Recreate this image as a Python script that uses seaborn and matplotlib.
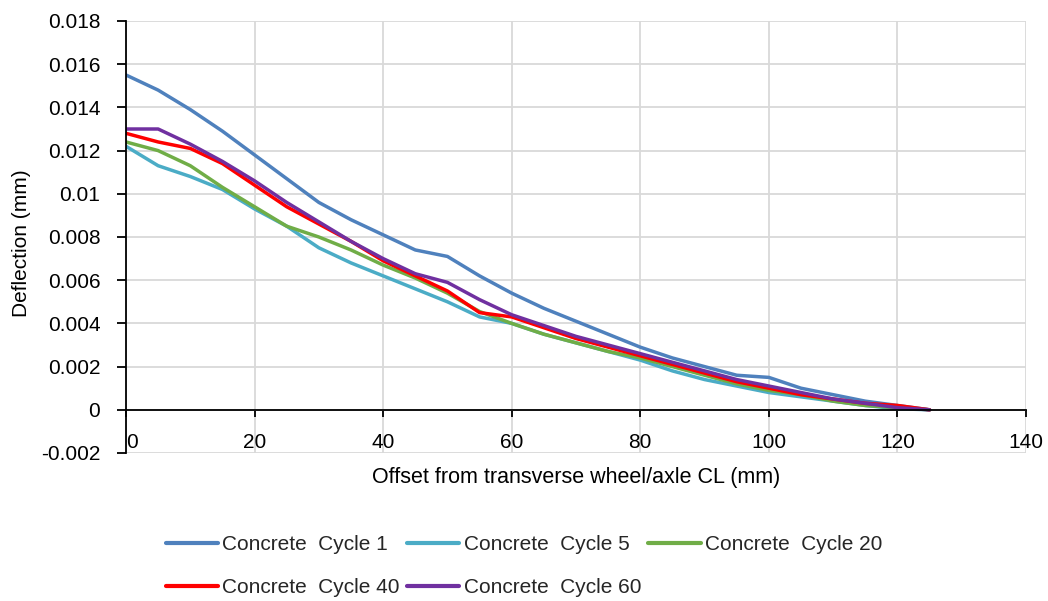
import matplotlib
matplotlib.use("Agg")
import matplotlib.pyplot as plt
import seaborn as sns
import pandas as pd

# Offset positions (mm) and measured deflections (mm) per loading cycle
offset_mm = [0, 5, 10, 15, 20, 25, 30, 35, 40, 45, 50, 55, 60,
             65, 70, 75, 80, 85, 90, 95, 100, 105, 110, 115, 120, 125]

cycle_1 = [0.0155, 0.0148, 0.0139, 0.0129, 0.0118, 0.0107, 0.0096, 0.0088, 0.0081,
           0.0074, 0.0071, 0.0062, 0.0054, 0.0047, 0.0041, 0.0035, 0.0029, 0.0024,
           0.0020, 0.0016, 0.0015, 0.0010, 0.0007, 0.0004, 0.0002, 0.0]
cycle_5 = [0.0122, 0.0113, 0.0108, 0.0102, 0.0093, 0.0085, 0.0075, 0.0068, 0.0062,
           0.0056, 0.0050, 0.0043, 0.0040, 0.0035, 0.0031, 0.0027, 0.0023, 0.0018,
           0.0014, 0.0011, 0.0008, 0.0006, 0.0004, 0.0002, 0.00005, 0.0]
cycle_20 = [0.0124, 0.0120, 0.0113, 0.0103, 0.0094, 0.0085, 0.0080, 0.0074, 0.0067,
            0.0061, 0.0054, 0.00455, 0.0040, 0.0035, 0.0031, 0.0027, 0.0024, 0.0020,
            0.0016, 0.0012, 0.0009, 0.0007, 0.0004, 0.0002, 0.0001, 0.0]
cycle_40 = [0.0128, 0.0124, 0.0121, 0.0114, 0.0104, 0.0094, 0.0086, 0.0078, 0.0069,
            0.0062, 0.0055, 0.0045, 0.0043, 0.0038, 0.0033, 0.0029, 0.0025, 0.0021,
            0.0017, 0.0013, 0.0010, 0.0007, 0.0005, 0.0003, 0.0002, 0.0]
cycle_60 = [0.0130, 0.0130, 0.0123, 0.0115, 0.0106, 0.0096, 0.0087, 0.0078, 0.0070,
            0.0063, 0.0059, 0.0051, 0.0044, 0.0039, 0.0034, 0.0030, 0.0026, 0.0022,
            0.0018, 0.0014, 0.0011, 0.0008, 0.0005, 0.0003, 0.0001, 0.0]

series_names = ["Concrete  Cycle 1", "Concrete  Cycle 5", "Concrete  Cycle 20",
                "Concrete  Cycle 40", "Concrete  Cycle 60"]
series_values = [cycle_1, cycle_5, cycle_20, cycle_40, cycle_60]
series_colors = ["#4F81BD", "#4BACC6", "#70AD47", "#FF0000", "#7030A0"]

x_ticks = [0, 20, 40, 60, 80, 100, 120, 140]
y_ticks = [-0.002, 0, 0.002, 0.004, 0.006, 0.008, 0.01, 0.012, 0.014, 0.016, 0.018]
y_tick_labels = ["-0.002", "0", "0.002", "0.004", "0.006", "0.008", "0.01",
                 "0.012", "0.014", "0.016", "0.018"]

x_title = "Offset from transverse wheel/axle CL (mm)"
y_title = "Deflection (mm)"

sns.set_theme(style="white")
plt.rcParams["font.family"] = ["Liberation Sans", "DejaVu Sans"]

df = pd.concat(
    [pd.DataFrame({"offset": offset_mm, "deflection": vals, "series": name})
     for name, vals in zip(series_names, series_values)],
    ignore_index=True,
)

fig = plt.figure(figsize=(10.48, 6.01), dpi=100)
ax = fig.add_axes([126 / 1048, 1 - 453 / 601, 900 / 1048, 432 / 601])

sns.lineplot(data=df, x="offset", y="deflection", hue="series",
             hue_order=series_names, palette=dict(zip(series_names, series_colors)),
             sort=False, linewidth=2.5, ax=ax)
for line in ax.get_lines():
    line.set_solid_joinstyle("round")

ax.set_xlim(0, 140)
ax.set_ylim(-0.002, 0.018)
ax.set_xticks(x_ticks)
ax.set_xticklabels([str(t) for t in x_ticks])
ax.set_yticks(y_ticks)
ax.set_yticklabels(y_tick_labels)

ax.grid(True, color="#D9D9D9", linewidth=1.3)
ax.set_axisbelow(True)

for side in ("top", "right"):
    ax.spines[side].set_visible(False)
ax.spines["left"].set_color("black")
ax.spines["left"].set_linewidth(1.3)
ax.spines["bottom"].set_color("black")
ax.spines["bottom"].set_linewidth(1.3)
ax.spines["bottom"].set_position(("data", 0))

ax.tick_params(axis="y", direction="out", length=6.5, width=1.3, color="black",
               left=True, pad=12, labelsize=15, labelcolor="black")
ax.tick_params(axis="x", direction="out", length=5, width=1.3, color="black",
               bottom=True, pad=12, labelsize=15, labelcolor="black")
ax.get_xticklabels()[0].set_horizontalalignment("left")

ax.set_xlabel(x_title, fontsize=15.5, color="black")
ax.set_ylabel(y_title, fontsize=15, color="black")
ax.xaxis.set_label_coords(0.5, -0.032)
ax.yaxis.set_label_coords(-0.106, 0.486)

handles, labels = ax.get_legend_handles_labels()
ax.get_legend().remove()
order = [0, 3, 1, 4, 2]
leg = fig.legend([handles[i] for i in order], [labels[i] for i in order],
                 ncol=3, loc="upper left", bbox_to_anchor=(166 / 1048, 1 - 535 / 601),
                 frameon=False, fontsize=15, handlelength=2.5, handletextpad=0.21,
                 columnspacing=0.35, labelspacing=1.16, borderpad=0, borderaxespad=0)
for line in leg.get_lines():
    line.set_linewidth(3)

fig.savefig("out.png", dpi=100)
